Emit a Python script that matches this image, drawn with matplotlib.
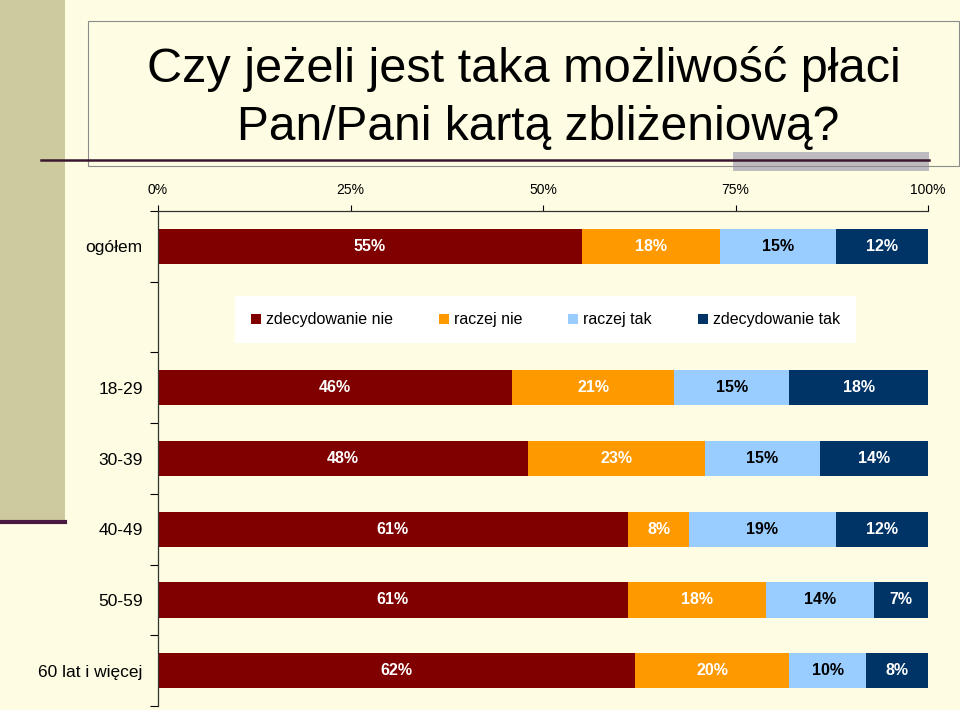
import matplotlib
matplotlib.use("Agg")
import matplotlib.pyplot as plt
from matplotlib.patches import Rectangle, Patch
from matplotlib.lines import Line2D

plt.rcParams['font.family'] = ['Liberation Sans', 'DejaVu Sans']

title_lines = ["Czy jeżeli jest taka możliwość płaci", "Pan/Pani kartą zbliżeniową?"]
categories = ["ogółem", "", "18-29", "30-39", "40-49", "50-59", "60 lat i więcej"]
series_names = ["zdecydowanie nie", "raczej nie", "raczej tak", "zdecydowanie tak"]
zdecydowanie_nie = [55, None, 46, 48, 61, 61, 62]
raczej_nie = [18, None, 21, 23, 8, 18, 20]
raczej_tak = [15, None, 15, 15, 19, 14, 10]
zdecydowanie_tak = [12, None, 18, 14, 12, 7, 8]
series_values = [zdecydowanie_nie, raczej_nie, raczej_tak, zdecydowanie_tak]
series_colors = ["#800000", "#FF9900", "#99CCFF", "#003366"]
label_colors = ["white", "white", "black", "white"]
x_ticks = [0, 25, 50, 75, 100]
x_tick_labels = ["0%", "25%", "50%", "75%", "100%"]

W, H = 960, 710
fig = plt.figure(figsize=(W / 100, H / 100), dpi=100, facecolor="#FEFDE3")

def fx(px):
    return px / W

def fy(py):
    return 1 - py / H

# decorations
fig.patches.append(Rectangle((0, fy(520)), fx(65), 1 - fy(520), transform=fig.transFigure,
                             facecolor="#CDCB9E", edgecolor="none", zorder=0))
fig.lines.append(Line2D([0, fx(65)], [fy(521.5), fy(521.5)], transform=fig.transFigure,
                        color="#4A1942", lw=3.0, zorder=1))
fig.patches.append(Rectangle((fx(733), fy(171)), fx(929 - 733), fy(152) - fy(171),
                             transform=fig.transFigure, facecolor="#BDBBC0",
                             edgecolor="none", zorder=1))
fig.patches.append(Rectangle((fx(88), fy(166)), fx(959 - 88), fy(21) - fy(166),
                             transform=fig.transFigure, facecolor="none",
                             edgecolor="#8C8C8C", lw=0.8, zorder=2))
fig.lines.append(Line2D([fx(41), fx(929)], [fy(160), fy(160)], transform=fig.transFigure,
                        color="#3A1630", lw=1.8, zorder=3))

fig.text(fx(524), fy(82), title_lines[0], ha="center", va="baseline", fontsize=35, color="black")
fig.text(fx(538), fy(140), title_lines[1], ha="center", va="baseline", fontsize=34.5, color="black")

ax = fig.add_axes([fx(158), fy(706), fx(770), fy(211) - fy(706)])
ax.set_facecolor("none")

for si, vals in enumerate(series_values):
    for ci, v in enumerate(vals):
        if v is None:
            continue
        left = sum(series_values[k][ci] for k in range(si))
        ax.barh(ci, v, left=left, height=0.5, color=series_colors[si], edgecolor="none", zorder=2)
        ax.text(left + v / 2, ci, f"{v}%", ha="center", va="center", fontsize=11.5,
                fontweight="bold", color=label_colors[si], zorder=3)

ax.set_xlim(0, 100)
ax.set_ylim(len(categories) - 0.5, -0.5)
ax.xaxis.tick_top()
ax.set_xticks(x_ticks)
ax.set_xticklabels(x_tick_labels)
ax.tick_params(axis="x", direction="out", length=4, width=0.8, labelsize=10, pad=6, colors="black")

ax.set_yticks(range(len(categories)))
ax.set_yticklabels(categories)
ax.set_yticks([i - 0.5 for i in range(len(categories) + 1)], minor=True)
ax.tick_params(axis="y", which="major", length=0, pad=11, labelsize=12.5)
ax.tick_params(axis="y", which="minor", length=6, width=0.8, direction="out")

for s in ["right", "bottom"]:
    ax.spines[s].set_visible(False)
for s in ["left", "top"]:
    ax.spines[s].set_color("#333333")
    ax.spines[s].set_linewidth(0.9)

handles = [Patch(facecolor=c, edgecolor="none") for c in series_colors]
leg = ax.legend(handles, series_names, loc="center", bbox_to_anchor=(0.503, 0.78), ncol=4,
                fontsize=11.5, frameon=True, fancybox=False, facecolor="white", edgecolor="none",
                framealpha=1, handlelength=0.62, handleheight=0.62, handletextpad=0.3,
                columnspacing=2.9, borderpad=1.0)
leg.get_frame().set_linewidth(0)

fig.savefig("out.png", dpi=100, facecolor=fig.get_facecolor())
